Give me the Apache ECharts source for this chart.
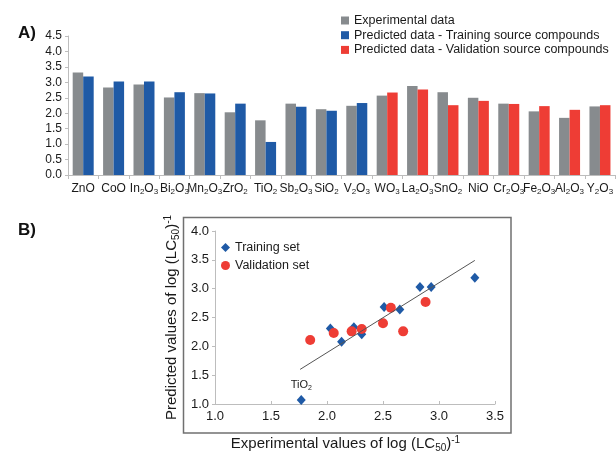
<!DOCTYPE html>
<html>
<head>
<meta charset="utf-8">
<script src="https://cdn.jsdelivr.net/npm/echarts@6/dist/echarts.min.js"></script>
<style>html,body{margin:0;padding:0;background:#fff}#c{width:616px;height:454px}</style>
</head>
<body>
<div id="c"></div>
<script>
var categories = ['ZnO','CoO','In2O3','Bi2O3','Mn2O3','ZrO2','TiO2','Sb2O3','SiO2','V2O3','WO3','La2O3','SnO2','NiO','Cr2O3','Fe2O3','Al2O3','Y2O3'];
var experimental = [3.32,2.83,2.93,2.51,2.65,2.03,1.77,2.31,2.13,2.24,2.57,2.88,2.68,2.50,2.31,2.06,1.85,2.22];
var predicted    = [3.19,3.03,3.03,2.68,2.64,2.31,1.07,2.21,2.08,2.33,2.67,2.77,2.26,2.40,2.30,2.23,2.11,2.26];
var group        = ['T','T','T','T','T','T','T','T','T','T','V','V','V','V','V','V','V','V'];
var fitLine = [[1.76,1.60],[3.32,3.49]];
var barTicks = [0,4.5,0.5];
var scatterX = [1,3.5,0.5];
var scatterY = [1,4,0.5];

var FONT = 'Liberation Sans, Arial, sans-serif';
var GREY = '#878b8e', BLUE = '#1f5aa6', RED = '#ee3d35', AX = '#bdbdbd', TXT = '#1a1a1a';

function chem(s){ return s.replace(/([A-Za-z]+)|(\d+)/g, function(m,a,d){ return a ? '{a|'+a+'}' : '{s|'+d+'}'; }); }

var trainBar = predicted.map(function(v,i){ return group[i]==='T' ? v : '-'; });
var validBar = predicted.map(function(v,i){ return group[i]==='V' ? v : '-'; });
var trainPts = [], validPts = [];
categories.forEach(function(c,i){
  var p = {value:[experimental[i], predicted[i]]};
  if (c === 'TiO2') {
    p.label = {show:true, position:'top', distance:3, formatter: chem(c),
      rich:{a:{fontSize:11,fontFamily:FONT,color:TXT,lineHeight:13,verticalAlign:'middle'},
            s:{fontSize:7,fontFamily:FONT,color:TXT,lineHeight:7,verticalAlign:'bottom'}}};
  }
  (group[i]==='T' ? trainPts : validPts).push(p);
});

var nameRich = {
  a:{fontSize:15,fontFamily:FONT,color:TXT,lineHeight:18,verticalAlign:'middle'},
  sub:{fontSize:10,fontFamily:FONT,color:TXT,lineHeight:10,verticalAlign:'bottom'},
  sup:{fontSize:10,fontFamily:FONT,color:TXT,lineHeight:10,verticalAlign:'top'}
};

var chart = echarts.init(document.getElementById('c'), null, {renderer:'canvas'});
chart.setOption({
  animation:false,
  backgroundColor:'#fff',
  title:[
    {text:'A)', left:13, top:20, textStyle:{fontSize:17, fontWeight:'bold', fontFamily:FONT, color:'#111'}},
    {text:'B)', left:13, top:217, textStyle:{fontSize:17, fontWeight:'bold', fontFamily:FONT, color:'#111'}}
  ],
  graphic:[{type:'rect', shape:{x:183.5, y:217.5, width:327.5, height:215.5}, style:{fill:'none', stroke:'#707070', lineWidth:1.5}, silent:true}],
  legend:[
    {orient:'vertical', left:336, top:9, itemWidth:8, itemHeight:8, itemGap:1.7, icon:'rect',
     textStyle:{fontSize:12.5, fontFamily:FONT, color:TXT, lineHeight:10},
     data:['Experimental data','Predicted data - Training source compounds','Predicted data - Validation source compounds']},
    {orient:'vertical', left:216, top:236, itemWidth:9, itemHeight:9, itemGap:5,
     textStyle:{fontSize:12.5, fontFamily:FONT, color:TXT},
     data:['Training set','Validation set']}
  ],
  grid:[
    {left:68, top:36, right:-2, height:139},
    {left:215, top:231, width:280, height:180}
  ],
  xAxis:[
    {type:'category', gridIndex:0, data:categories,
     axisLine:{lineStyle:{color:AX}}, axisTick:{show:true, length:4, lineStyle:{color:AX}},
     axisLabel:{margin:6, interval:0, formatter:function(v){return chem(v);},
       rich:{a:{fontSize:12,fontFamily:FONT,color:TXT,lineHeight:15,verticalAlign:'middle'},
             s:{fontSize:8,fontFamily:FONT,color:TXT,lineHeight:8,verticalAlign:'bottom'}}}},
    {type:'value', gridIndex:1, min:scatterX[0], max:scatterX[1], interval:scatterX[2],
     axisLine:{show:true, lineStyle:{color:AX}}, axisTick:{show:true, inside:true, length:3, lineStyle:{color:AX}},
     splitLine:{show:false},
     axisLabel:{margin:6, fontSize:13, fontFamily:FONT, color:TXT, formatter:function(v){return v.toFixed(1);}},
     name:'{a|Experimental values of log (LC}{sub|50}{a|)}{sup|-1}', nameLocation:'middle', nameGap:31,
     nameTextStyle:{rich:nameRich, padding:[0,19,0,0]}}
  ],
  yAxis:[
    {type:'value', gridIndex:0, min:barTicks[0], max:barTicks[1], interval:barTicks[2],
     axisLine:{show:true, lineStyle:{color:AX}}, axisTick:{show:true, length:3, lineStyle:{color:AX}},
     splitLine:{show:false},
     axisLabel:{margin:6, fontSize:12, fontFamily:FONT, color:TXT, formatter:function(v){return v.toFixed(1);}}},
    {type:'value', gridIndex:1, min:scatterY[0], max:scatterY[1], interval:scatterY[2],
     axisLine:{show:true, lineStyle:{color:AX}}, axisTick:{show:true, length:3, lineStyle:{color:AX}},
     splitLine:{show:false},
     axisLabel:{margin:6, fontSize:13, fontFamily:FONT, color:TXT, formatter:function(v){return v.toFixed(1);}},
     name:'{a|Predicted values of log (LC}{sub|50}{a|)}{sup|-1}', nameLocation:'middle', nameGap:34,
     nameTextStyle:{rich:nameRich}}
  ],
  series:[
    {name:'Experimental data', type:'bar', xAxisIndex:0, yAxisIndex:0, data:experimental,
     barWidth:10.5, barGap:'0%', itemStyle:{color:GREY}},
    {name:'Predicted data - Training source compounds', type:'bar', xAxisIndex:0, yAxisIndex:0, stack:'pred', data:trainBar,
     barWidth:10.5, barGap:'0%', itemStyle:{color:BLUE}},
    {name:'Predicted data - Validation source compounds', type:'bar', xAxisIndex:0, yAxisIndex:0, stack:'pred', data:validBar,
     barWidth:10.5, barGap:'0%', itemStyle:{color:RED}},
    {name:'fit', type:'line', xAxisIndex:1, yAxisIndex:1, data:fitLine, symbol:'none', silent:true,
     lineStyle:{color:'#555', width:1}},
    {name:'Training set', type:'scatter', xAxisIndex:1, yAxisIndex:1, data:trainPts, symbol:'diamond', symbolSize:[9,10],
     itemStyle:{color:BLUE, opacity:1}},
    {name:'Validation set', type:'scatter', xAxisIndex:1, yAxisIndex:1, data:validPts, symbol:'circle', symbolSize:10,
     itemStyle:{color:RED, opacity:1}}
  ]
});
</script>
</body>
</html>
